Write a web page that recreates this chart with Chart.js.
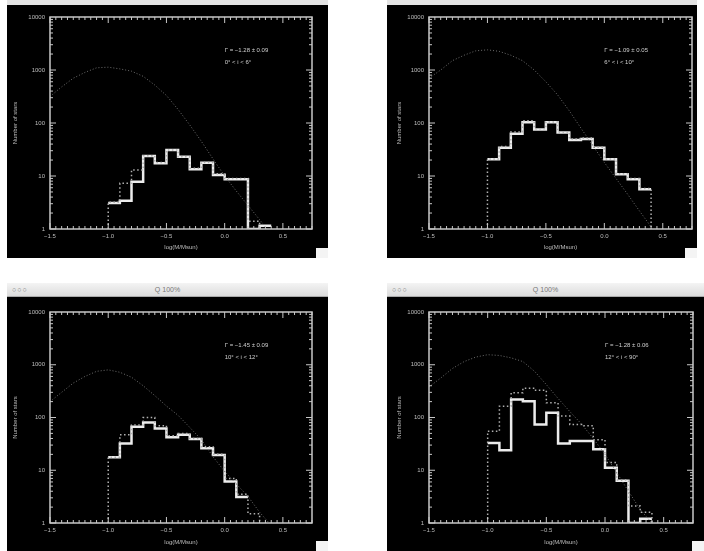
<!DOCTYPE html>
<html>
<head>
<meta charset="utf-8">
<script src="https://cdn.jsdelivr.net/npm/chart.js@4/dist/chart.umd.min.js"></script>
<style>
body { margin: 0; background: #fff; width: 704px; height: 551px; position: relative; overflow: hidden; font-family: "Liberation Sans", "DejaVu Sans", sans-serif; }
.win { position: absolute; background: #000; }
.win canvas { position: absolute; left: 0; top: 0; filter: blur(0.5px); }
.grip { position: absolute; width: 12px; height: 10px; background: #f4f4f4; right: 0; bottom: 0; }
.bar { position: absolute; height: 13px; background: linear-gradient(#f4f4f4, #dcdcdc); border-bottom: 1px solid #aaa; color: #777; font-size: 7px; line-height: 13px; }
.bar .dots { position: absolute; left: 5px; letter-spacing: 1px; }
.bar .ttl { position: absolute; width: 100%; text-align: center; }
.strip { position: absolute; height: 5px; background: #e4e4e4; }
</style>
</head>
<body>
<script>
// mass bins (log M/Msun), edges shared by all panels
const binEdges = [-1.0, -0.9, -0.8, -0.7, -0.6, -0.5, -0.4, -0.3, -0.2, -0.1, 0.0, 0.1, 0.2, 0.3, 0.4];

// observed counts (solid) and corrected counts (dotted), per panel
const solid1 = [3.1, 3.4, 7.8, 23.8, 17.4, 31, 23, 13.4, 17.8, 10.4, 8.7, 8.7, 1, 1.15];
const dotted1 = [3.2, 7.3, 13, 24, 18, 31, 23, 14, 18, 11, 9, 9, 1.4];
const solid2 = [20.6, 34, 63, 103, 75, 103, 66, 48, 50, 34, 20.6, 10.8, 8.7, 5.6];
const dotted2 = [21, 36, 68, 110, 78, 105, 68, 50, 52, 35, 21, 11, 9, 5.8];
const solid3 = [17.6, 32, 67, 80, 62, 42, 47, 39, 26, 19.5, 6.1, 3.1];
const dotted3 = [17.6, 47, 72, 100, 70, 45, 50, 40, 28, 20, 7, 3.5, 1.5];
const solid4 = [33, 24, 219, 204, 74, 123, 32, 36, 36, 25, 11.2, 6.3, 1, 1.2];
const dotted4 = [55, 164, 295, 360, 330, 190, 107, 74, 70, 38, 14, 6.5, 2.1, 1.6];

// model curve (dotted smooth line)
const modelMass = [-1.5, -1.4, -1.3, -1.2, -1.1, -1.0, -0.9, -0.8, -0.7, -0.6, -0.5, -0.4, -0.3, -0.2, -0.1, 0.0, 0.1, 0.2, 0.3, 0.4];
const model1 = [316, 480, 700, 900, 1100, 1130, 1050, 950, 760, 520, 330, 180, 92, 45, 21, 10, 5.2, 2.8, 1.5, 0.8];
const model2 = [700, 1000, 1500, 1900, 2300, 2400, 2250, 1900, 1500, 1000, 600, 340, 170, 80, 38, 18, 9, 4.5, 2.2, 1.1];
const model3 = [200, 300, 450, 600, 750, 800, 720, 580, 400, 260, 165, 110, 65, 38, 18, 9.5, 5.5, 3.2, 1.6, 0.9];
const model4 = [380, 560, 850, 1150, 1400, 1550, 1500, 1350, 1150, 750, 420, 230, 130, 75, 40, 20, 9, 4, 1.8, 1];

const gammaText = ['Γ = −1.28 ± 0.09', 'Γ = −1.09 ± 0.05', 'Γ = −1.45 ± 0.09', 'Γ = −1.28 ± 0.06'];
const inclText = ['0° < i < 6°', '6° < i < 10°', '10° < i < 12°', '12° < i < 90°'];

const xTickValues = [-1.5, -1.0, -0.5, 0.0, 0.5];
const xTickLabels = ['−1.5', '−1.0', '−0.5', '0.0', '0.5'];
const yTickValues = [1, 10, 100, 1000, 10000];
const yTickLabels = ['1', '10', '100', '1000', '10000'];

const panels = [
    { box: [7, 5, 321, 253], top: 12, right: 16, yW: 43, xH: 29, yTP: 5, xTP: 7, solid: solid1, dotted: dotted1, model: model1 },
    { box: [387, 5, 310, 253], top: 12, right: 5, yW: 42, xH: 29, yTP: 9, xTP: 7, solid: solid2, dotted: dotted2, model: model2 },
    { box: [7, 297, 321, 254], top: 15, right: 16, yW: 43, xH: 28, yTP: 5, xTP: 5, solid: solid3, dotted: dotted3, model: model3 },
    { box: [387, 297, 317, 254], top: 15, right: 11, yW: 42, xH: 28, yTP: 9, xTP: 5, solid: solid4, dotted: dotted4, model: model4 }
];

// histogram outline across each bin; closed = rise from / fall back to the axis
function stepPoints(vals, closed) {
    const pts = [];
    if (closed) pts.push({ x: binEdges[0], y: 1 });
    vals.forEach((v, i) => {
        pts.push({ x: binEdges[i], y: v });
        pts.push({ x: binEdges[i + 1], y: v });
    });
    if (closed) pts.push({ x: binEdges[vals.length], y: 1 });
    return pts;
}

const bgPlugin = {
    id: 'bg',
    beforeDraw(chart) {
        const ctx = chart.ctx;
        ctx.save();
        ctx.fillStyle = '#000';
        ctx.fillRect(0, 0, chart.width, chart.height);
        ctx.restore();
    }
};

// boxed frame with inward ticks on all four sides, plus the fit labels
const framePlugin = {
    id: 'frame',
    afterDatasetsDraw(chart, args, opts) {
        const { ctx, chartArea: a, scales: { x, y } } = chart;
        ctx.save();
        ctx.strokeStyle = '#c8c8c8';
        ctx.lineWidth = 1.5;
        ctx.strokeRect(a.left, a.top, a.right - a.left, a.bottom - a.top);
        ctx.lineWidth = 1;
        ctx.beginPath();
        for (let k = 0; k <= 45; k++) {
            const px = x.getPixelForValue(-1.5 + k * 0.05);
            const len = k % 10 === 0 ? 6 : 3;
            ctx.moveTo(px, a.bottom); ctx.lineTo(px, a.bottom - len);
            ctx.moveTo(px, a.top); ctx.lineTo(px, a.top + len);
        }
        for (let e = 0; e < 4; e++) {
            for (let m = 1; m <= 9; m++) {
                const py = y.getPixelForValue(m * Math.pow(10, e));
                const len = m === 1 ? 6 : 3;
                ctx.moveTo(a.left, py); ctx.lineTo(a.left + len, py);
                ctx.moveTo(a.right, py); ctx.lineTo(a.right - len, py);
            }
        }
        ctx.stroke();

        ctx.fillStyle = '#cfcfcf';
        ctx.font = '6px "Liberation Sans", sans-serif';
        ctx.textBaseline = 'middle';
        const tx = x.getPixelForValue(0);
        ctx.fillText(opts.gamma, tx, a.top + 33);
        ctx.fillText(opts.incl, tx, a.top + 45);
        ctx.restore();
    }
};

panels.forEach((p, i) => {
    const [left, top, w, h] = p.box;
    const win = document.createElement('div');
    win.className = 'win';
    win.style.cssText = `left:${left}px;top:${top}px;width:${w}px;height:${h}px`;
    const canvas = document.createElement('canvas');
    canvas.width = w;
    canvas.height = h;
    win.appendChild(canvas);
    const grip = document.createElement('div');
    grip.className = 'grip';
    win.appendChild(grip);
    document.body.appendChild(win);

    if (i < 2) {
        const s = document.createElement('div');
        s.className = 'strip';
        s.style.cssText = `left:${left}px;top:0;width:${w}px`;
        document.body.appendChild(s);
    } else {
        const b = document.createElement('div');
        b.className = 'bar';
        b.style.cssText = `left:${left}px;top:${top - 14}px;width:${w}px`;
        b.innerHTML = '<span class="dots">○○○</span><span class="ttl">Q 100%</span>';
        document.body.appendChild(b);
    }

    new Chart(canvas, {
        type: 'line',
        data: {
            datasets: [
                {
                    data: modelMass.map((m, k) => ({ x: m, y: p.model[k] })),
                    borderColor: '#6e6e6e', borderWidth: 1, borderDash: [1, 2],
                    pointRadius: 0, tension: 0, fill: false
                },
                {
                    data: stepPoints(p.dotted, true),
                    borderColor: '#b0b0b0', borderWidth: 1.5, borderDash: [1.5, 2.5],
                    pointRadius: 0, tension: 0, fill: false
                },
                {
                    data: stepPoints(p.solid, false),
                    borderColor: '#ececec', borderWidth: 2.5,
                    pointRadius: 0, tension: 0, fill: false
                }
            ]
        },
        options: {
            responsive: false,
            animation: false,
            devicePixelRatio: 1,
            layout: { padding: { top: p.top, right: p.right, left: 0, bottom: 0 } },
            plugins: {
                legend: { display: false },
                tooltip: { enabled: false },
                frame: { gamma: gammaText[i], incl: inclText[i] }
            },
            scales: {
                x: {
                    type: 'linear', min: -1.5, max: 0.75,
                    afterBuildTicks: s => { s.ticks = xTickValues.map(v => ({ value: v })); },
                    afterFit: s => { s.height = p.xH; },
                    grid: { display: false, drawTicks: false },
                    border: { display: false },
                    ticks: {
                        color: '#bdbdbd', padding: 4, maxRotation: 0, autoSkip: false,
                        font: { size: 6 },
                        callback: (v, k) => xTickLabels[k]
                    },
                    title: {
                        display: true, text: 'log(M/Msun)', color: '#bdbdbd',
                        font: { size: 6 }, padding: { top: 0, bottom: p.xTP }
                    }
                },
                y: {
                    type: 'logarithmic', min: 1, max: 10000,
                    afterBuildTicks: s => { s.ticks = yTickValues.map(v => ({ value: v })); },
                    afterFit: s => { s.width = p.yW; },
                    grid: { display: false, drawTicks: false },
                    border: { display: false },
                    ticks: {
                        color: '#bdbdbd', padding: 5, autoSkip: false,
                        font: { size: 6 },
                        callback: (v, k) => yTickLabels[k]
                    },
                    title: {
                        display: true, text: 'Number of stars', color: '#bdbdbd',
                        font: { size: 6 }, padding: { top: p.yTP, bottom: 0 }
                    }
                }
            }
        },
        plugins: [bgPlugin, framePlugin]
    });
});
</script>
</body>
</html>
